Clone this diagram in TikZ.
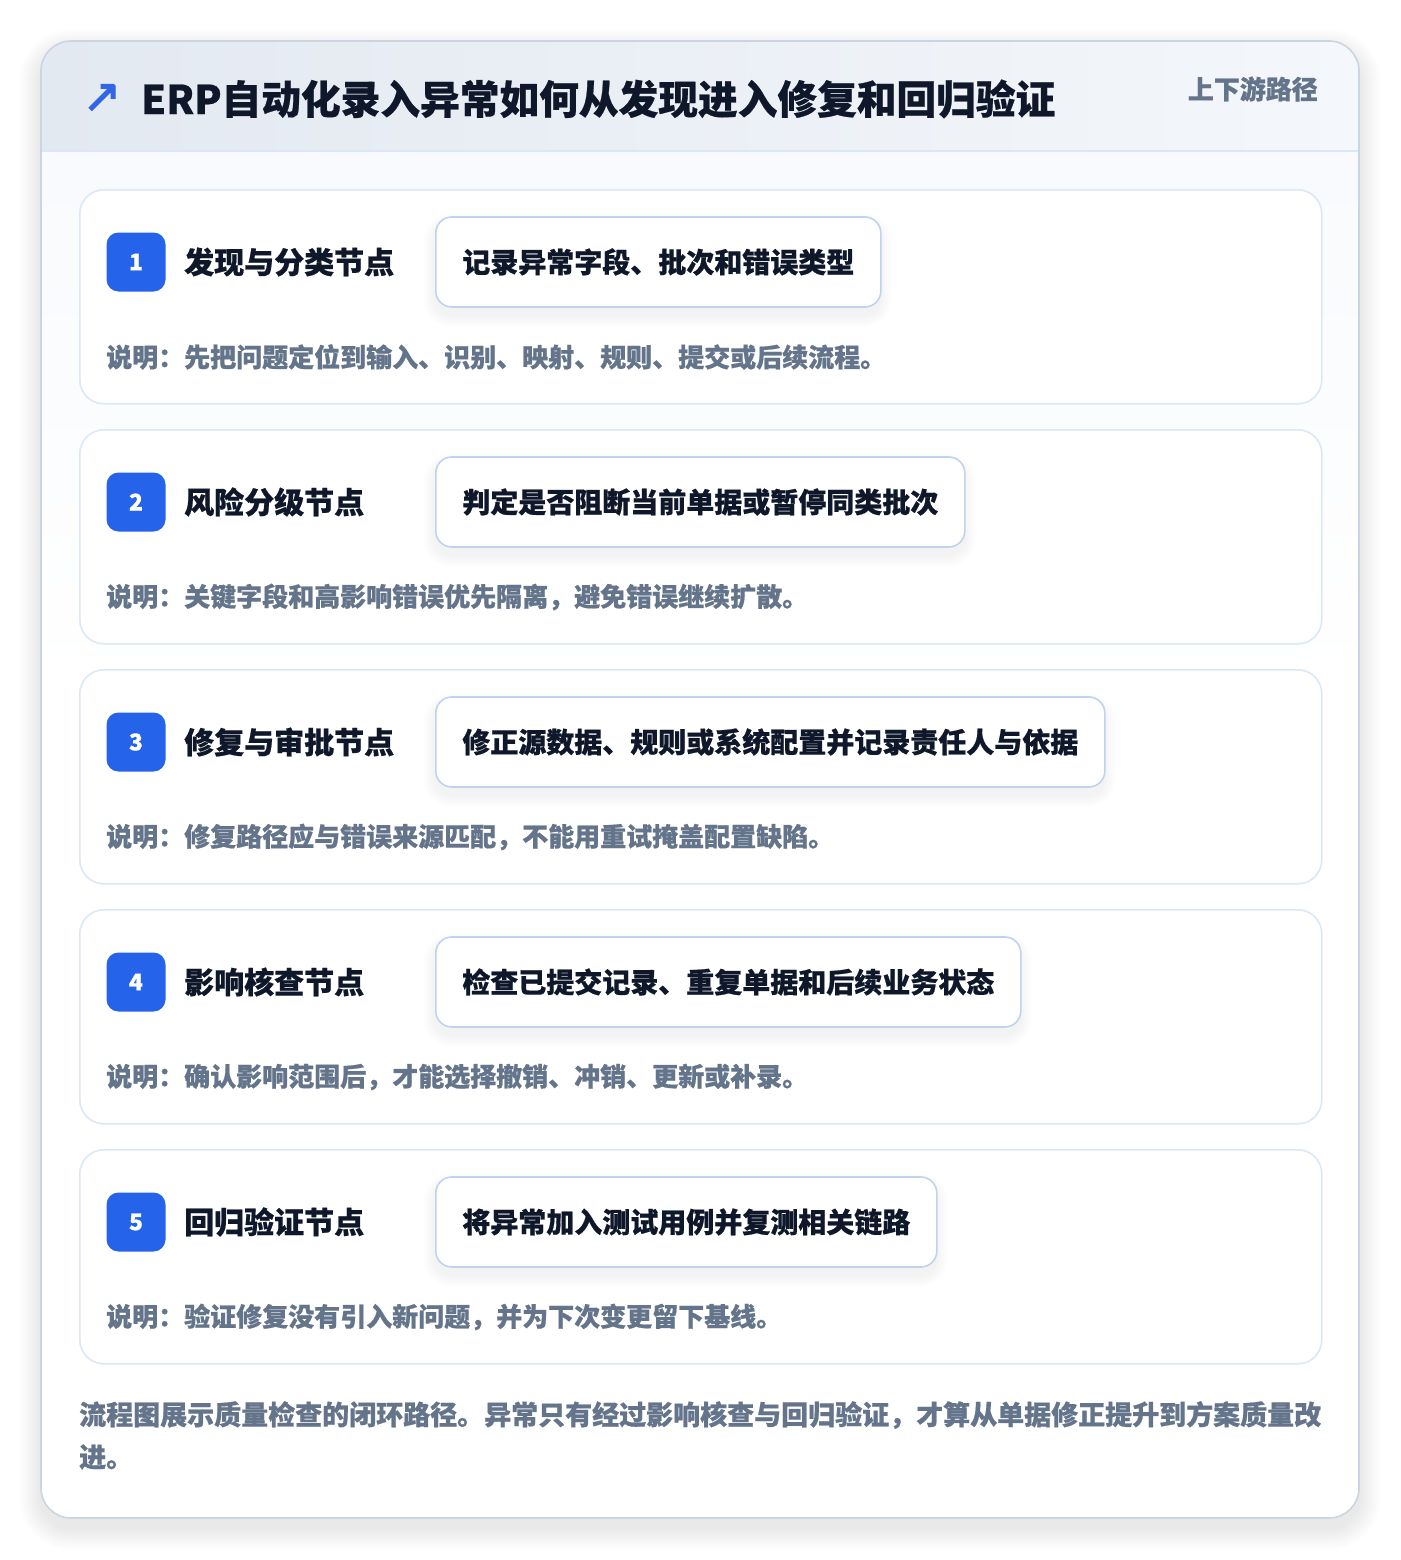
\documentclass[tikz,border=0pt]{standalone}
\usepackage{fontspec}
\setmainfont{Noto Sans CJK SC}[BoldFeatures={FakeBold=0.6}]
\newfontfamily\symfont{DejaVu Sans}[FakeBold=2.5]
\definecolor{cardborder}{HTML}{CBD5E1}
\definecolor{headL}{HTML}{E3E9F1}
\definecolor{headR}{HTML}{F4F7FB}
\definecolor{headline}{HTML}{DCE7F5}
\definecolor{bodytop}{HTML}{F8FAFD}
\definecolor{stepborder}{HTML}{DCE7F7}
\definecolor{pillborder}{HTML}{BFD3F1}
\definecolor{badgeblue}{HTML}{2563EB}
\definecolor{titlecol}{HTML}{0F172A}
\definecolor{graytext}{HTML}{64748B}
\definecolor{arrowblue}{HTML}{3366E6}
\tikzset{
  stepcard/.style={draw=stepborder, line width=1.6pt, fill=white, rounded corners=24pt, inner sep=0pt},
  badge/.style={fill=badgeblue, rounded corners=12pt, minimum width=59pt, minimum height=59pt, inner sep=0pt, text=white, font=\bfseries\fontsize{23}{24}\selectfont},
  steplab/.style={anchor=west, inner sep=0pt, text=titlecol, font=\bfseries\fontsize{30}{34}\selectfont},
  pill/.style={anchor=west, draw=pillborder, line width=1.6pt, fill=white, rounded corners=16pt, minimum height=90pt, inner sep=0pt, text=titlecol, font=\bfseries\fontsize{28}{32}\selectfont},
  desc/.style={anchor=west, inner sep=0pt, text=graytext, font=\bfseries\fontsize{26}{30}\selectfont},
  foot/.style={anchor=west, inner sep=0pt, text=graytext, font=\bfseries\fontsize{27}{32}\selectfont},
  softshade/.style={fill=black, fill opacity=#1, draw=none},
}
\begin{document}
\begin{tikzpicture}[x=1pt,y=-1pt]
\useasboundingbox (0,0) rectangle (1400,1560);
\fill[white] (0,0) rectangle (1400,1560);
% outer card shadow (layered)
\foreach \k in {1,...,22}{
  \fill[softshade=0.0038, rounded corners=30+\k] (41-\k,41-\k+10) rectangle (1359+\k,1518+\k+10);
}
\begin{scope}
  \clip[rounded corners=30pt] (41,41) rectangle (1359,1518);
  \fill[white] (41,41) rectangle (1359,1518);
  \shade[top color=bodytop, bottom color=white] (41,151) rectangle (1359,700);
  \shade[left color=headL, right color=headR] (41,41) rectangle (1359,151);
\end{scope}
\draw[headline, line width=1.5pt] (41,151) -- (1359,151);
\draw[cardborder, line width=1.6pt, rounded corners=30pt] (41,41) rectangle (1359,1518);
% header
\node[anchor=center, inner sep=0pt, text=arrowblue, font=\symfont\fontsize{46}{48}\selectfont] (icon) at (102,98) {↗};
\node[anchor=west, inner sep=0pt, text=titlecol, font=\bfseries\fontsize{39.7}{44}\selectfont] (title) at (141,99) {ERP自动化录入异常如何从发现进入修复和回归验证};
\node[anchor=east, inner sep=0pt, text=graytext, font=\bfseries\fontsize{26}{30}\selectfont] (tag) at (1318,89) {上下游路径};
% steps
\foreach \i/\lab/\pilltext/\pw/\dtext in {
  1/发现与分类节点/记录异常字段、批次和错误类型/445/说明：先把问题定位到输入、识别、映射、规则、提交或后续流程。,
  2/风险分级节点/判定是否阻断当前单据或暂停同类批次/529/说明：关键字段和高影响错误优先隔离，避免错误继续扩散。,
  3/修复与审批节点/修正源数据、规则或系统配置并记录责任人与依据/669/说明：修复路径应与错误来源匹配，不能用重试掩盖配置缺陷。,
  4/影响核查节点/检查已提交记录、重复单据和后续业务状态/585/说明：确认影响范围后，才能选择撤销、冲销、更新或补录。,
  5/回归验证节点/将异常加入测试用例并复测相关链路/501/说明：验证修复没有引入新问题，并为下次变更留下基线。}{
  \pgfmathsetmacro\top{189+240*(\i-1)}
  \node[stepcard, anchor=north west, minimum width=1242pt, minimum height=214pt] (card\i) at (79,\top) {};
  \foreach \k in {1,...,12}{
    \fill[softshade=0.004, rounded corners=16+\k] (435-\k,\top+28-\k+8) rectangle (435+\pw+\k,\top+118+\k+8);
  }
  \node[badge] (badge\i) at (136,\top+73) {\i};
  \node[steplab] (lab\i) at (184,\top+73) {\lab};
  \node[pill, minimum width=\pw pt] (pill\i) at (435,\top+73) {\pilltext};
  \node[desc] (desc\i) at (106,\top+168) {\dtext};
}
% footer
\node[foot] (foot1) at (79,1415) {流程图展示质量检查的闭环路径。异常只有经过影响核查与回归验证，才算从单据修正提升到方案质量改};
\node[foot] (foot2) at (79,1457) {进。};
\end{tikzpicture}
\end{document}
